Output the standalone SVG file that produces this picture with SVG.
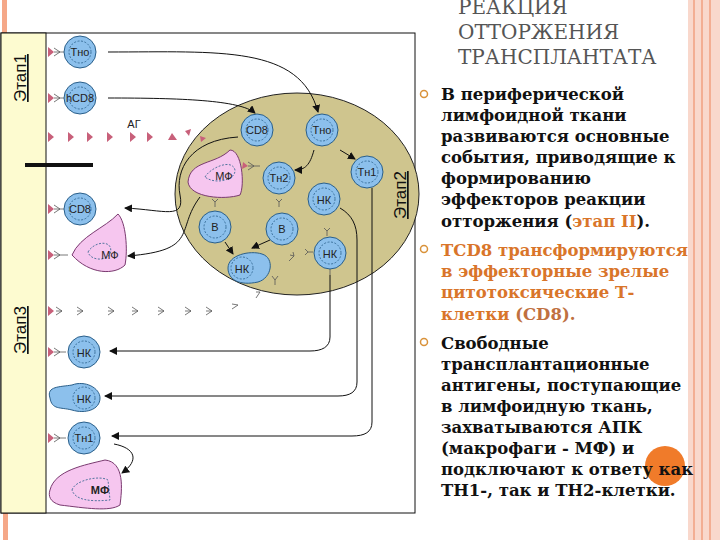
<svg xmlns="http://www.w3.org/2000/svg" width="720" height="540" viewBox="0 0 720 540">
<defs>
<style>
.cell{fill:#8cc0ec;stroke:#2a5f8a;stroke-width:1}
.nuc{fill:none;stroke:#2a5f8a;stroke-width:0.8;stroke-dasharray:2 1.5}
.lbl{font-family:"Liberation Sans",Arial,sans-serif;font-size:11px;fill:#222;text-anchor:middle}
.mf{fill:#f6c6ef;stroke:#7a3a70;stroke-width:1}
.ln{fill:none;stroke:#111;stroke-width:1}
.ag{fill:#c8607a}
.ab{fill:none;stroke:#555;stroke-width:0.8}
.t{font-family:"DejaVu Serif","Liberation Serif",serif;font-size:16.5px;font-weight:bold;fill:#111}
.o{fill:#d9752a}
.ttl{font-family:"DejaVu Serif","Liberation Serif",serif;font-size:20px;fill:#555}
.stg{font-family:"Liberation Sans",Arial,sans-serif;font-size:17px;fill:#111;text-decoration:underline}
</style>
<marker id="ah" markerWidth="8" markerHeight="8" refX="7" refY="4" orient="auto" markerUnits="userSpaceOnUse"><path d="M0,0L8,4L0,8z" fill="#111"/></marker>
</defs>
<rect width="720" height="540" fill="#fff"/>
<g id="stripes">
<rect x="688" y="0" width="32" height="540" fill="#f9d8cc"/>
<line x1="694" y1="0" x2="694" y2="540" stroke="#f0a080" stroke-width="1.5"/>
<line x1="702" y1="0" x2="702" y2="540" stroke="#f0a080" stroke-width="1.5"/>
<line x1="710" y1="0" x2="710" y2="540" stroke="#f0a080" stroke-width="1.5"/>
<rect x="2" y="0" width="5" height="33" fill="#f5a888"/>
<rect x="3" y="513" width="5" height="27" fill="#f5a888"/>
</g>
<g id="frame">
<rect x="1" y="33" width="414" height="480" fill="#fff" stroke="#111" stroke-width="1"/>
<rect x="1" y="33" width="45" height="480" fill="#fdfbd0" stroke="#111" stroke-width="1"/>
<line x1="25" y1="165" x2="93" y2="165" stroke="#111" stroke-width="4"/>
<text class="stg" transform="translate(26,78) rotate(-90)" text-anchor="middle">Этап1</text>
<text class="stg" transform="translate(26,330) rotate(-90)" text-anchor="middle">Этап3</text>
</g>
<g id="lymph">
<ellipse cx="297" cy="194" rx="122" ry="101" fill="#cfc58e" stroke="#222" stroke-width="1"/>
<text class="stg" transform="translate(406,195) rotate(-90)" text-anchor="middle">Этап2</text>
</g>
<g id="antigens">
<path class="ag" d="M48,132l6,5l-6,5z M68,132l6,5l-6,5z M87,132l6,5l-6,5z M107,132l6,5l-6,5z M130,132l6,5l-6,5z M147,132l6,5l-6,5z M168,140l4,-7l5,7z M185,131l6,-2l-2,7z M200,136l6,2l-5,4z"/>
<text class="lbl" x="134" y="128" font-size="12">АГ</text>
<path class="ag" d="M48,47l6,5l-6,5z M48,93l6,5l-6,5z M48,204l6,5l-6,5z M48,250l6,5l-6,5z M48,306l6,5l-6,5z M48,347l6,5l-6,5z M48,433l6,5l-6,5z M243,162l5,4l-6,3z M275,174l8,0l-4,6z M211,173l6,3l-6,3z"/>
</g>
<g id="antibodies">
<path class="ab" d="M54,52h6l-6,-4M60,52l-6,4M60,52h6 M54,98h6l-6,-4M60,98l-6,4M60,98h6 M54,209h6l-6,-4M60,209l-6,4M60,209h6 M54,255h6l-6,-4M60,255l-6,4M60,255h8 M54,352h6l-6,-4M60,352l-6,4M60,352h6 M54,438h6l-6,-4M60,438l-6,4M60,438h6 M248,166h6l-6,-4M254,166l-6,4M254,166h6"/>
<path class="ab" d="M56,311h6l-6,-4M62,311l-6,4 M77,311h6l-6,-4M83,311l-6,4 M108,311h6l-6,-4M114,311l-6,4 M132,311h6l-6,-4M138,311l-6,4 M158,311h6l-6,-4M164,311l-6,4 M185,311h6l-6,-4M191,311l-6,4 M206,311h6l-6,-4M212,311l-6,4 M232,309l6,-4l-6,-1 M256,298l4,-6l-4,0 M275,285l0,-5l-3,-4M275,280l3,-4"/>
<path class="ab" d="M215,207v-5l-3,-3M215,202l3,-3 M279,207v-5l-3,-3M279,202l3,-3 M327,236v-5l-3,-3M327,231l3,-3 M289,261l5,-5l-4,-1M294,256l-1,-4 M313,252h-5l-3,-3M308,252l-3,3 M330,275v-6l-3,-3M330,269l3,-3"/>
</g>
<g id="connectors">
<path class="ln" marker-end="url(#ah)" d="M108,52C220,52 300,45 318,112"/>
<path class="ln" marker-end="url(#ah)" d="M108,98C180,98 240,100 255,113"/>
<path class="ln" marker-end="url(#ah)" d="M238,137C190,140 175,170 180,195C185,220 165,210 125,208"/>
<path class="ln" marker-end="url(#ah)" d="M200,197C175,230 200,250 128,256"/>
<path class="ln" marker-end="url(#ah)" d="M314,150C310,165 305,170 295,170"/>
<path class="ln" marker-end="url(#ah)" d="M340,150L355,159"/>
<path class="ln" marker-end="url(#ah)" d="M225,242L233,254"/>
<path class="ln" marker-end="url(#ah)" d="M270,240L252,248"/>
<path class="ln" marker-end="url(#ah)" d="M330,275L330,337C330,347 322,351 310,351L110,351"/>
<path class="ln" marker-end="url(#ah)" d="M340,208C352,215 357,225 357,240L357,382C357,392 350,396 338,396L105,396"/>
<path class="ln" marker-end="url(#ah)" d="M372,188L372,422C372,432 365,436 352,436L112,436"/>
<path class="ln" marker-end="url(#ah)" d="M114,444C135,448 140,460 122,473"/>
</g>
<g id="n-tho1"><circle class="cell" cx="80" cy="52" r="16"/><circle class="nuc" cx="80" cy="52" r="11"/><text class="lbl" x="80" y="56">Тно</text></g>
<g id="n-hcd8"><circle class="cell" cx="80" cy="98" r="16"/><circle class="nuc" cx="80" cy="98" r="11"/><text class="lbl" x="80" y="102" font-size="13">hCD8</text></g>
<g id="n-cd8a"><circle class="cell" cx="80" cy="209" r="16"/><circle class="nuc" cx="80" cy="209" r="11"/><text class="lbl" x="80" y="213" font-size="13">CD8</text></g>
<g id="n-mf1"><path class="mf" d="M72,255C80,236 105,228 118,214C126,222 128,250 125,265C115,275 90,275 72,255z"/><path class="nuc" d="M88,252C95,240 115,240 110,254C105,262 90,260 88,252z"/><text class="lbl" x="110" y="259">МФ</text></g>
<g id="n-cd8b"><circle class="cell" cx="257" cy="130" r="16"/><circle class="nuc" cx="257" cy="130" r="11"/><text class="lbl" x="257" y="134" font-size="13">CD8</text></g>
<g id="n-tho2"><circle class="cell" cx="322" cy="130" r="16"/><circle class="nuc" cx="322" cy="130" r="11"/><text class="lbl" x="322" y="134">Тно</text></g>
<g id="n-th1"><circle class="cell" cx="367" cy="172" r="16"/><circle class="nuc" cx="367" cy="172" r="11"/><text class="lbl" x="367" y="176">Тн1</text></g>
<g id="n-th2"><circle class="cell" cx="279" cy="178" r="16"/><circle class="nuc" cx="279" cy="178" r="11"/><text class="lbl" x="279" y="182">Тн2</text></g>
<g id="n-mf2"><path class="mf" d="M188,182C190,160 215,165 230,150C242,150 245,185 240,195C225,200 190,198 188,182z"/><path class="nuc" d="M205,177C210,168 232,158 235,170C236,180 215,185 205,177z"/><text class="lbl" x="224" y="180">МФ</text></g>
<g id="n-hk1"><circle class="cell" cx="324" cy="199" r="16"/><circle class="nuc" cx="324" cy="199" r="11"/><text class="lbl" x="324" y="204" font-size="13">НК</text></g>
<g id="n-b1"><circle class="cell" cx="215" cy="227" r="16"/><circle class="nuc" cx="215" cy="227" r="11"/><text class="lbl" x="215" y="231" font-size="12">В</text></g>
<g id="n-b2"><circle class="cell" cx="282" cy="229" r="16"/><circle class="nuc" cx="282" cy="229" r="11"/><text class="lbl" x="282" y="233" font-size="12">В</text></g>
<g id="n-hk2"><circle class="cell" cx="330" cy="253" r="16"/><circle class="nuc" cx="330" cy="253" r="11"/><text class="lbl" x="330" y="258" font-size="13">НК</text></g>
<g id="n-hk3"><path class="cell" d="M228,268C228,255 250,250 262,254C275,258 272,278 258,282C240,286 228,280 228,268z"/><circle class="nuc" cx="242" cy="268" r="11"/><text class="lbl" x="242" y="273" font-size="13">НК</text></g>
<g id="n-hk4"><circle class="cell" cx="84" cy="352" r="16"/><circle class="nuc" cx="84" cy="352" r="11"/><text class="lbl" x="84" y="357" font-size="13">НК</text></g>
<g id="n-hk5"><path class="cell" d="M50,398C46,386 60,387 72,385C85,380 100,388 100,398C100,410 85,414 72,410C60,407 52,410 50,398z"/><circle class="nuc" cx="84" cy="398" r="11"/><text class="lbl" x="84" y="403" font-size="13">НК</text></g>
<g id="n-th1b"><circle class="cell" cx="84" cy="438" r="16"/><circle class="nuc" cx="84" cy="438" r="11"/><text class="lbl" x="84" y="442">Тн1</text></g>
<g id="n-mf3"><path class="mf" d="M50,490C55,470 85,465 105,460C125,462 122,490 120,505C110,512 85,508 60,505C50,502 48,496 50,490z"/><path class="nuc" d="M72,490C75,480 100,475 108,480L110,500C90,502 75,500 72,490z"/><text class="lbl" x="100" y="494" font-size="13" font-weight="bold">МФ</text></g>
<g id="text">
<text class="ttl" x="458" y="14">РЕАКЦИЯ</text>
<text class="ttl" x="458" y="39">ОТТОРЖЕНИЯ</text>
<text class="ttl" x="458" y="64">ТРАНСПЛАНТАТА</text>
<circle cx="424" cy="94" r="3.5" fill="none" stroke="#d9923a" stroke-width="1.5"/>
<circle cx="424" cy="249" r="3.5" fill="none" stroke="#d9923a" stroke-width="1.5"/>
<circle cx="424" cy="342" r="3.5" fill="none" stroke="#d9923a" stroke-width="1.5"/>
<text class="t" x="441" y="100">В периферической</text>
<text class="t" x="441" y="121">лимфоидной ткани</text>
<text class="t" x="441" y="142">развиваются основные</text>
<text class="t" x="441" y="163">события, приводящие к</text>
<text class="t" x="441" y="184">формированию</text>
<text class="t" x="441" y="205">эффекторов реакции</text>
<text class="t" x="441" y="227">отторжения (<tspan class="o">этап II</tspan>).</text>
<text class="t o" x="441" y="256">TCD8 трансформируются</text>
<text class="t o" x="441" y="277">в эффекторные зрелые</text>
<text class="t o" x="441" y="298">цитотоксические Т-</text>
<text class="t" x="441" y="320"><tspan class="o">клетки</tspan><tspan fill="#c07040"> (CD8).</tspan></text>
<circle cx="665" cy="466" r="20" fill="#f07b2a"/>
<text class="t" x="441" y="349">Свободные</text>
<text class="t" x="441" y="370">трансплантационные</text>
<text class="t" x="441" y="391">антигены, поступающие</text>
<text class="t" x="441" y="412">в лимфоидную ткань,</text>
<text class="t" x="441" y="433">захватываются АПК</text>
<text class="t" x="441" y="454">(макрофаги - МФ) и</text>
<text class="t" x="441" y="475">подключают к ответу как</text>
<text class="t" x="441" y="496">ТН1-, так и ТН2-клетки.</text>
</g>
</svg>
